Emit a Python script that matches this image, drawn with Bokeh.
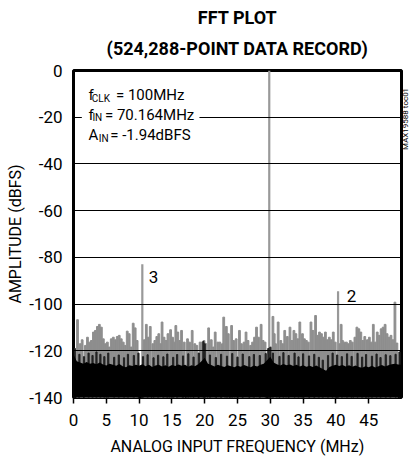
from bokeh.plotting import figure
from bokeh.models import Range1d, FixedTicker, Label, BoxAnnotation, Title, LinearAxis
from bokeh.embed import file_html
from bokeh.resources import INLINE
import math

FONT = "Roboto"

# ---- data ----
x_ticks = [0, 5, 10, 15, 20, 25, 30, 35, 40, 45]
y_ticks = [-140, -120, -100, -80, -60, -40, -20, 0]
y_tick_labels = ["-140", "-120", "-100", "-80", "-60", "-40", "-20", "0"]

# fundamental and harmonic spurs
spur_mhz = [10.49, 29.84, 40.33]
spur_dbfs = [-83.0, 0.0, -94.5]
spur_labels = ["3", "", "2"]

# gray noise spikes
noise_mhz = [0.61, 1.02, 1.32, 1.82, 2.13, 2.43, 2.73, 3.04, 3.34, 3.64, 3.94, 4.25, 4.55, 4.85,
             5.16, 5.46, 5.76, 6.07, 6.37, 6.67, 6.97, 7.28, 7.58, 7.88, 8.19, 8.49, 8.79, 9.10,
             9.40, 9.70, 10.8, 11.1, 11.4, 11.7, 12.1, 12.4, 12.7, 13.0, 13.3, 13.5, 13.8, 14.1,
             14.4, 14.8, 15.1, 15.4, 15.6, 15.9, 16.2, 16.47, 16.88, 17.38, 17.69, 18.09, 18.49,
             18.8, 19.3, 19.6, 19.9, 20.2, 20.6, 21.0, 21.3, 21.6, 22.0, 22.3, 22.7, 22.9, 23.3,
             23.6, 24.1, 24.4, 24.8, 25.3, 25.6, 26.0, 26.3, 26.6, 27.0, 27.3, 27.6, 27.9, 28.2,
             28.6, 28.9, 29.2, 30.1, 30.4, 30.6, 30.8, 31.2, 31.6, 31.9, 32.2, 32.6, 33.0, 33.3,
             33.6, 33.9, 34.2, 34.5, 34.9, 35.2, 35.5, 35.8, 36.2, 36.5, 36.9, 37.2, 37.5, 37.8,
             38.1, 38.4, 38.7, 39.0, 39.3, 39.6, 39.9, 40.6, 40.8, 41.0, 41.3, 41.6, 41.9, 42.2,
             42.5, 42.9, 43.2, 43.5, 43.8, 44.1, 44.4, 44.8, 45.1, 45.4, 45.7, 46.0, 46.3, 46.6,
             46.9, 47.2, 47.5, 47.8, 48.1, 48.4, 48.7, 49.0, 49.3]
noise_dbfs = [-106.7, -117.0, -115.3, -117.7, -114.2, -116.3, -115.6, -112.0, -111.3, -109.6,
              -108.7, -109.9, -114.9, -117.0, -116.3, -118.4, -114.9, -114.2, -115.3, -113.9,
              -113.4, -114.9, -116.3, -117.7, -111.6, -112.7, -118.4, -108.2, -110.2, -115.6,
              -115.3, -108.7, -114.2, -109.6, -117.0, -115.6, -113.9, -112.7, -117.0, -107.7,
              -114.2, -115.6, -112.7, -111.0, -114.2, -116.3, -109.2, -112.0, -115.6, -111.3,
              -116.3, -114.9, -116.3, -111.3, -117.0, -117.7, -116.3, -116.3, -115.6, -117.0,
              -110.2, -115.3, -118.4, -112.0, -116.3, -116.3, -117.0, -105.6, -109.6, -112.7,
              -109.2, -115.6, -114.9, -111.3, -117.0, -116.3, -112.0, -115.6, -117.7, -116.3,
              -114.2, -109.9, -114.2, -108.7, -115.6, -116.3, -118.4, -105.3, -112.7, -117.0,
              -107.7, -115.6, -117.0, -111.3, -113.9, -109.9, -115.6, -111.3, -112.7, -114.9,
              -107.7, -112.7, -114.9, -115.6, -116.3, -107.7, -111.3, -104.9, -113.4, -112.0,
              -112.7, -114.2, -112.0, -115.3, -114.2, -115.3, -112.0, -116.3, -117.0, -108.7,
              -115.6, -116.3, -116.3, -117.0, -115.6, -116.3, -114.2, -109.9, -110.6, -112.0,
              -115.6, -113.9, -115.3, -114.2, -116.3, -108.7, -116.3, -112.0, -113.4, -110.6,
              -109.9, -108.7, -112.7, -114.2, -113.4, -115.3, -99.2, -116.7]

# darker spikes just above the floor
dark_mhz = [0.2, 0.9, 1.6, 2.3, 2.9, 3.5, 4.1, 4.7, 5.3, 6.2, 6.9, 7.7, 8.3, 9.2, 9.9, 10.6,
            11.3, 12.2, 12.9, 13.7, 14.3, 15.2, 15.8, 16.7, 17.5, 18.3, 19.1, 19.8, 20.0, 20.8,
            21.7, 22.5, 23.4, 24.2, 25.0, 25.8, 26.8, 27.5, 28.4, 29.3, 29.7, 30.0, 30.4, 31.4,
            32.0, 32.8, 33.7, 34.3, 35.0, 35.9, 36.7, 37.4, 38.0, 38.8, 39.5, 40.2, 40.9, 41.7,
            42.4, 43.3, 44.0, 44.6, 45.5, 46.2, 46.8, 47.6, 48.3, 49.1, 49.7]
dark_dbfs = [-119.0, -121.5, -122.5, -121.0, -122.0, -120.5, -121.5, -122.5, -121.0, -122.8,
             -121.8, -123.0, -121.5, -122.0, -121.0, -122.5, -121.7, -123.0, -121.9, -122.6,
             -121.4, -122.8, -121.6, -122.2, -121.3, -122.7, -121.0, -116.0, -117.0, -121.8,
             -122.9, -121.5, -122.3, -121.2, -122.7, -121.4, -122.5, -121.6, -122.0, -121.2,
             -119.0, -118.5, -121.0, -122.4, -120.8, -122.0, -121.0, -122.6, -121.3, -122.2,
             -121.5, -122.8, -124.0, -122.0, -121.0, -121.8, -122.5, -121.3, -122.4, -121.1,
             -122.7, -121.6, -122.3, -121.4, -122.9, -121.7, -122.1, -121.5, -120.5]

# solid noise floor
floor_mhz = [0.0, 0.5, 1.0, 1.5, 2.0, 2.5, 3.0, 3.5, 4.0, 4.5, 5.0, 5.5, 6.0, 6.5, 7.0, 7.5,
             8.0, 8.5, 9.0, 9.5, 10.0, 10.5, 11.0, 11.5, 12.0, 12.5, 13.0, 13.5, 14.0, 14.5,
             15.0, 15.5, 16.0, 16.5, 17.0, 17.5, 18.0, 18.5, 19.0, 19.5, 20.0, 20.5, 21.0, 21.5,
             22.0, 22.5, 23.0, 23.5, 24.0, 24.5, 25.0, 25.5, 26.0, 26.5, 27.0, 27.5, 28.0, 28.5,
             29.0, 29.5, 30.0, 30.5, 31.0, 31.5, 32.0, 32.5, 33.0, 33.5, 34.0, 34.5, 35.0, 35.5,
             36.0, 36.5, 37.0, 37.5, 38.0, 38.5, 39.0, 39.5, 40.0, 40.5, 41.0, 41.5, 42.0, 42.5,
             43.0, 43.5, 44.0, 44.5, 45.0, 45.5, 46.0, 46.5, 47.0, 47.5, 48.0, 48.5, 49.0, 49.5,
             50.0]
floor_dbfs = [-121.5, -124.5, -125.0, -125.5, -124.8, -125.6, -125.2, -125.8, -125.0, -125.9,
              -126.3, -125.6, -126.0, -126.4, -125.7, -126.6, -127.0, -126.2, -126.5, -126.0,
              -126.4, -125.8, -126.6, -126.0, -126.9, -126.3, -126.0, -126.7, -126.2, -126.8,
              -126.1, -126.5, -125.9, -126.4, -126.0, -126.8, -126.2, -126.6, -125.8, -124.5,
              -123.0, -125.6, -126.1, -126.7, -126.0, -126.5, -126.9, -126.2, -126.6, -127.1,
              -126.4, -126.8, -126.1, -126.6, -127.0, -126.3, -126.7, -126.0, -125.5, -124.0,
              -122.5, -125.0, -125.8, -126.3, -125.7, -126.2, -125.9, -126.5, -126.0, -126.7,
              -126.2, -126.8, -126.4, -126.9, -126.3, -127.0, -127.8, -128.5, -126.9, -126.4,
              -126.0, -126.5, -126.1, -126.7, -126.2, -126.8, -126.3, -126.9, -127.3, -126.6,
              -127.0, -126.4, -127.2, -126.6, -126.1, -126.7, -126.2, -125.8, -125.5, -125.9,
              -126.0]

title_lines = ["FFT PLOT", "(524,288-POINT DATA RECORD)"]
x_title = "ANALOG INPUT FREQUENCY (MHz)"
y_title = "AMPLITUDE (dBFS)"
figure_id = "MAX19588 toc01"

# ---- figure ----
p = figure(width=417, height=458, output_backend="svg", toolbar_location=None, title=None,
           x_range=Range1d(0, 50), y_range=Range1d(-140, 0),
           min_border_left=73, min_border_right=14, min_border_top=70, min_border_bottom=61)
p.background_fill_color = "white"
p.border_fill_color = "white"
p.outline_line_color = "black"
p.outline_line_width = 3
p.outline_line_alpha = 1.0

p.segment(x0=spur_mhz, y0=[-140] * len(spur_mhz), x1=spur_mhz, y1=spur_dbfs,
          line_color="#999999", line_width=2.2)
p.vbar(x=noise_mhz, top=noise_dbfs, bottom=-140, width=0.27, color="#8e8e8e")
p.vbar(x=dark_mhz, top=dark_dbfs, bottom=-140, width=0.18, color="#222222")
p.varea(x=floor_mhz, y1=[-140] * len(floor_mhz), y2=floor_dbfs, fill_color="black")

# axes
xax = p.xaxis[0]
yax = p.yaxis[0]
xax.ticker = FixedTicker(ticks=x_ticks)
yax.ticker = FixedTicker(ticks=y_ticks)
yax.major_label_overrides = dict(zip(y_ticks, y_tick_labels))
for ax in (xax, yax):
    ax.axis_line_color = None
    ax.minor_tick_line_color = None
    ax.major_label_text_font = FONT
    ax.major_label_text_font_size = "17px"
    ax.major_label_text_color = "black"
    ax.axis_label_text_font = FONT
    ax.axis_label_text_font_size = "16px"
    ax.axis_label_text_font_style = "normal"
    ax.axis_label_text_color = "black"
xax.major_tick_in = 0
xax.major_tick_out = 6
xax.major_tick_line_color = "black"
xax.major_tick_line_width = 1.5
xax.major_label_standoff = 10
xax.axis_label = x_title
xax.axis_label_standoff = 8
yax.major_tick_line_color = None
yax.major_tick_in = 0
yax.major_tick_out = 0
yax.major_label_standoff = 11
yax.axis_label = y_title
yax.axis_label_standoff = 1

# right-hand figure id, drawn as the single label of a bare right axis
rax = LinearAxis(ticker=FixedTicker(ticks=[-34]), major_label_overrides={-34: figure_id},
                 major_label_orientation=math.pi / 2, axis_line_color=None,
                 major_tick_line_color=None, minor_tick_line_color=None,
                 major_tick_in=0, major_tick_out=0,
                 major_label_text_font=FONT, major_label_text_font_size="8px",
                 major_label_text_color="black", major_label_standoff=4)
p.add_layout(rax, "right")

p.xgrid.visible = False
p.ygrid.ticker = FixedTicker(ticks=[-120, -100, -80, -60, -40, -20])
p.ygrid.grid_line_color = "black"
p.ygrid.grid_line_width = 1
p.ygrid.level = "annotation"

# two title lines, second one nearest the frame
p.add_layout(Title(text=title_lines[1], align="center", vertical_align="top", text_font=FONT,
                   text_font_size="18px", text_font_style="bold", text_color="black",
                   standoff=20), "above")
p.add_layout(Title(text=title_lines[0], align="center", text_font=FONT, text_font_size="18px",
                   text_font_style="bold", text_color="black", standoff=0), "above")

# white box behind the conditions text
p.add_layout(BoxAnnotation(left=1.27, right=19.2, top=-2.6, bottom=-30.8,
                           fill_color="white", fill_alpha=1.0, line_color=None,
                           level="overlay"))

def lab(x, y, text, size="15px", **kw):
    p.add_layout(Label(x=x, y=y, text=text, text_font=FONT, text_font_size=size,
                       text_color="black", text_baseline="alphabetic",
                       level="overlay", **kw))

lab(2.27, -10.7, "f")
lab(2.79, -11.8, "CLK", size="10px")
lab(6.47, -10.7, "= 100MHz")
lab(2.27, -19.26, "f")
lab(2.88, -20.3, "IN", size="10px")
lab(4.80, -19.26, "= 70.164MHz")
lab(2.27, -27.8, "A")
lab(3.85, -28.9, "IN", size="10px")
lab(5.60, -27.8, "= -1.94dBFS")

# harmonic labels
lab(11.47, -88.6, spur_labels[0], size="17px")
lab(41.67, -96.6, spur_labels[2], size="17px")

open("out.html", "w").write(file_html(p, INLINE))
